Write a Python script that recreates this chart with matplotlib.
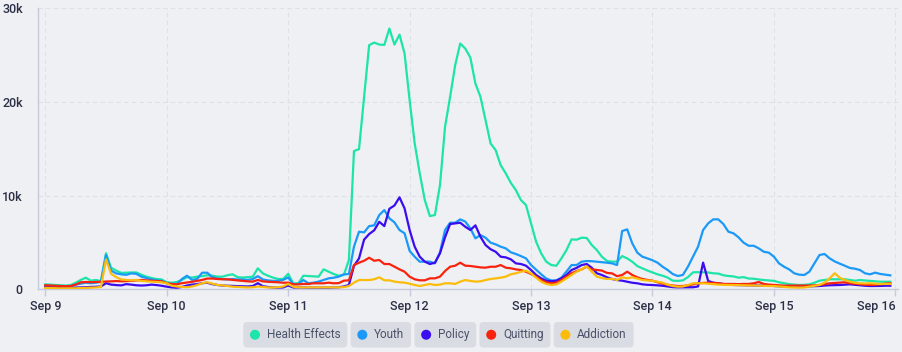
import matplotlib
matplotlib.use("Agg")
import matplotlib.pyplot as plt
from matplotlib.patches import FancyBboxPatch, Circle
from matplotlib.transforms import IdentityTransform
import numpy as np

# ---------------- data (hourly values, Sep 9 00:00 -> Sep 15 23:00) ----------------
health = [
    530, 500, 480, 450, 400, 450, 700, 1000, 1240, 920, 990, 880, 3850, 2300, 2000, 1750, 1780, 1800, 1800, 1550, 1350, 1200, 1100, 1050,
    750, 700, 780, 1000, 1300, 1250, 1350, 1400, 1500, 1450, 1350, 1350, 1500, 1600, 1300, 1250, 1300, 1350, 2240, 1700, 1450, 1250, 1100, 1100,
    1650, 640, 640, 1450, 1420, 1380, 1350, 2130, 1880, 1630, 1450, 1530, 3130, 14760, 14970, 20550, 26070, 26350, 26140, 26100, 27850, 26140, 27200, 25180,
    20200, 15580, 12380, 9530, 7820, 7930, 11130, 17350, 20550, 23930, 26250, 25710, 24750, 21980, 20550, 18060, 15580, 14860, 13260, 12380, 11370, 10590, 9530, 8990,
    7040, 5080, 3840, 2950, 2590, 2520, 3300, 4190, 5330, 5300, 5510, 5480, 4730, 4190, 3480, 3020, 2950, 2950, 3550, 3300, 2950, 2480, 2240, 2000,
    1800, 1600, 1450, 1250, 920, 900, 950, 1300, 1810, 1830, 1810, 1800, 1710, 1680, 1500, 1420, 1380, 1240, 1300, 1150, 1130, 1050, 990, 950,
    900, 750, 650, 550, 500, 460, 480, 530, 700, 920, 990, 1070, 1070, 1070, 1070, 1000, 920, 990, 950, 900, 850, 810, 810, 810,
]
youth = [
    350, 320, 300, 280, 300, 350, 500, 600, 700, 650, 700, 800, 3660, 2000, 1700, 1600, 1550, 1700, 1650, 1350, 1200, 1050, 950, 900,
    650, 600, 550, 1100, 1450, 1000, 1100, 1770, 1770, 1300, 1150, 1100, 1050, 1100, 1050, 1050, 1000, 1100, 1400, 1050, 950, 900, 900, 1000,
    1270, 530, 570, 990, 640, 710, 820, 990, 1170, 1240, 1350, 1600, 1630, 4550, 6150, 6080, 6750, 6830, 7930, 8460, 7580, 7150, 6330, 5980,
    4100, 3480, 2950, 2950, 2950, 2770, 3950, 6330, 7110, 7110, 7470, 7230, 6510, 5440, 5790, 5510, 4980, 4800, 4550, 4370, 3950, 3770, 3550, 3300,
    2590, 2100, 1600, 1150, 950, 950, 1250, 1900, 2590, 2590, 2950, 3020, 3000, 2950, 2900, 2840, 2770, 2590, 6220, 6400, 4910, 3910, 3480, 3300,
    3100, 2840, 2410, 2060, 1630, 1420, 1530, 2410, 3480, 4550, 6330, 7040, 7470, 7470, 6970, 6150, 5980, 5550, 4980, 4650, 4650, 4370, 4010, 3910,
    3480, 2770, 2410, 2130, 1710, 1560, 1530, 1880, 2770, 3660, 3770, 3310, 2980, 2740, 2520, 2280, 2200, 2060, 1710, 1600, 1780, 1640, 1560, 1490,
]
policy = [
    250, 230, 220, 200, 180, 170, 180, 200, 220, 250, 280, 300, 650, 500, 450, 420, 550, 500, 430, 400, 430, 500, 450, 380,
    280, 200, 170, 250, 400, 500, 550, 650, 700, 550, 460, 400, 380, 350, 350, 330, 300, 350, 650, 330, 250, 200, 180, 200,
    400, 200, 200, 200, 180, 180, 170, 170, 180, 200, 220, 300, 460, 2500, 3300, 5300, 5900, 6300, 7210, 6750, 8600, 8950, 9820, 8640,
    6330, 4550, 3480, 2950, 2700, 2840, 3840, 5550, 6970, 7040, 7110, 6680, 6330, 6830, 5610, 4730, 4280, 4010, 3480, 3410, 3200, 2770, 2700, 2520,
    2060, 1530, 1170, 920, 850, 920, 1170, 1530, 2060, 2290, 2590, 2700, 2300, 1710, 1530, 1280, 1100, 990, 920, 810, 700, 640, 530, 480,
    460, 420, 380, 300, 230, 210, 210, 210, 220, 300, 2850, 890, 710, 640, 570, 520, 460, 450, 430, 420, 410, 400, 390, 380,
    350, 320, 300, 280, 280, 280, 300, 320, 350, 350, 400, 430, 440, 460, 500, 530, 480, 430, 380, 350, 350, 360, 380, 380,
]
quitting = [
    430, 400, 380, 350, 330, 350, 500, 750, 780, 760, 780, 800, 820, 850, 880, 850, 870, 900, 950, 1000, 950, 920, 900, 850,
    640, 560, 530, 650, 720, 800, 900, 1000, 1150, 1150, 1100, 1070, 1070, 1000, 950, 900, 850, 820, 1000, 850, 800, 780, 750, 700,
    710, 530, 530, 570, 570, 640, 640, 640, 710, 640, 660, 920, 960, 2590, 2840, 3050, 3370, 3050, 3130, 2700, 2700, 2410, 2130, 1880,
    1350, 1070, 960, 960, 1170, 1170, 1350, 1950, 2410, 2520, 2840, 2520, 2490, 2410, 2340, 2310, 2410, 2410, 2590, 2310, 2240, 2130, 2060, 1880,
    1630, 1350, 990, 750, 640, 710, 990, 1350, 1710, 1950, 2130, 2410, 2130, 2060, 2000, 1750, 1700, 1400, 1530, 1880, 1530, 1280, 1100, 1000,
    920, 750, 600, 480, 400, 350, 350, 420, 530, 640, 680, 700, 680, 650, 570, 570, 570, 550, 570, 570, 640, 780, 570, 500,
    460, 420, 390, 390, 390, 390, 400, 400, 430, 460, 550, 640, 680, 710, 750, 640, 600, 530, 500, 460, 480, 530, 600, 640,
]
addiction = [
    150, 130, 120, 100, 100, 100, 110, 130, 150, 180, 200, 250, 3200, 1650, 1300, 1050, 1000, 950, 1000, 900, 850, 820, 800, 750,
    640, 380, 300, 250, 220, 300, 450, 650, 750, 600, 460, 420, 350, 280, 250, 220, 200, 220, 300, 250, 200, 200, 220, 300,
    570, 280, 210, 200, 200, 200, 200, 210, 210, 210, 210, 230, 350, 710, 990, 990, 990, 1070, 1280, 960, 960, 820, 750, 710,
    600, 460, 350, 460, 570, 460, 500, 640, 640, 570, 820, 990, 890, 820, 850, 990, 1100, 1170, 1240, 1350, 1600, 1710, 1880, 1990,
    1710, 1240, 820, 570, 460, 530, 820, 1170, 1530, 1880, 2130, 2450, 1880, 1350, 1200, 1100, 1120, 990, 1280, 1170, 1280, 1150, 990, 950,
    900, 810, 700, 500, 350, 280, 300, 450, 640, 640, 640, 600, 550, 500, 480, 460, 460, 440, 430, 420, 400, 390, 370, 350,
    350, 300, 250, 210, 200, 180, 200, 280, 380, 460, 710, 1170, 1710, 1240, 990, 810, 700, 640, 620, 640, 600, 570, 570, 570,
]
series_names = ["Health Effects", "Youth", "Policy", "Quitting", "Addiction"]
series_values = [health, youth, policy, quitting, addiction]
day_labels = ["Sep 9", "Sep 10", "Sep 11", "Sep 12", "Sep 13", "Sep 14", "Sep 15", "Sep 16"]
y_ticks = [0, 10000, 20000, 30000]
y_labels = ["0", "10k", "20k", "30k"]

# ---------------- style ----------------
colors = ["#1de4a9", "#1b99f8", "#3a0cef", "#f8230f", "#fbbc0b"]
BG = "#eff0f3"
TXT = "#2b3047"
AXC = "#c5cbdc"
GRID = "#dce0e8"

W, H = 903, 352
fig = plt.figure(figsize=(W / 100, H / 100), dpi=100, facecolor=BG)
plt.rcParams["font.family"] = ["Roboto", "DejaVu Sans"]

left, right, top, bottom = 38, 898, 8.4, 289.3
ax = fig.add_axes([left / W, 1 - bottom / H, (right - left) / W, (bottom - top) / H])
ax.set_facecolor(BG)

hours = np.arange(len(health))
for name, vals, c in zip(series_names, series_values, colors):
    ax.plot(hours, vals, color=c, lw=1.6, solid_joinstyle="round", label=name, zorder=3)

px_per_hour = 5.06
x0 = -(45.3 - left) / px_per_hour
x1 = x0 + (right - left) / px_per_hour
ax.set_xlim(x0, x1)
ax.set_ylim(0, 30000)

ax.set_xticks([24 * i for i in range(len(day_labels))])
ax.set_xticklabels(day_labels)
ax.set_yticks(y_ticks)
ax.set_yticklabels(y_labels)

ax.tick_params(axis="x", length=5, width=1, color=AXC, colors=TXT, labelsize=9, pad=3)
ax.tick_params(axis="y", length=0, colors=TXT, labelsize=9, pad=11)
for lbl in ax.get_xticklabels() + ax.get_yticklabels():
    lbl.set_color(TXT)
    lbl.set_fontweight("medium")
ax.get_xticklabels()[-1].set_horizontalalignment("right")

ax.grid(True, color=GRID, linestyle=(0, (4, 3)), linewidth=0.8, zorder=0)
for s in ["top", "right"]:
    ax.spines[s].set_visible(False)
for s in ["left", "bottom"]:
    ax.spines[s].set_color(AXC)
    ax.spines[s].set_linewidth(1)

# ---------------- legend (pill boxes) ----------------
renderer = fig.canvas.get_renderer()
LEG_TXT = "#4c5169"
BOX = "#d9dce2"
box_top, box_bot = 322, 347.5
yc = (box_top + box_bot) / 2
xcur = 243.3
for name, c in zip(series_names, colors):
    t = fig.text(0, 0, name, fontsize=8.5, color=LEG_TXT, va="center", ha="left",
                 transform=IdentityTransform())
    tw = t.get_window_extent(renderer).width
    bw = 23.4 + tw + 7
    box = FancyBboxPatch((xcur, H - box_bot), bw, box_bot - box_top,
                         boxstyle="round,pad=0,rounding_size=4",
                         facecolor=BOX, edgecolor="none", transform=IdentityTransform())
    fig.add_artist(box)
    circ = Circle((xcur + 11.7, H - yc), 5, facecolor=c, edgecolor="none",
                  transform=IdentityTransform())
    fig.add_artist(circ)
    t.set_position((xcur + 23.4, H - yc))
    t.set_zorder(5)
    xcur += bw + 3.3

fig.savefig("out.png", dpi=100, facecolor=BG)
